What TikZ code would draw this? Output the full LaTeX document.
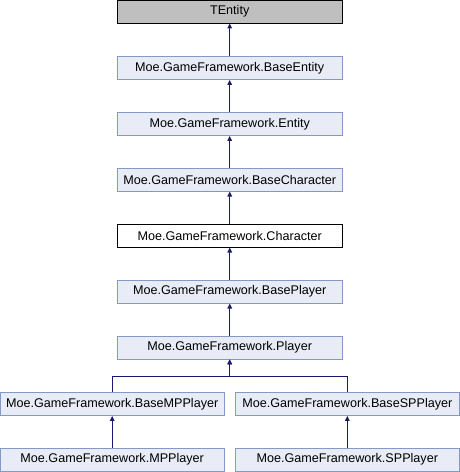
\documentclass[tikz,border=0pt]{standalone}
\usepackage{fontspec}
\setmainfont{Liberation Sans}
\usepackage{tikz}
\usetikzlibrary{arrows.meta}
\definecolor{box_fill}{HTML}{E8ECF6}
\definecolor{box_line}{HTML}{8499C9}
\definecolor{edge_blue}{HTML}{191970}

\begin{document}
\begin{tikzpicture}[x=1pt, y=-1pt,
    class_node/.style={rectangle, draw=box_line, fill=box_fill, line width=0.9pt, minimum width=224.5pt, minimum height=22.7pt, inner sep=0pt, font=\fontsize{12.6}{15}\selectfont},
    root_node/.style={class_node, draw=black, fill=black!25},
    self_node/.style={class_node, draw=black, fill=white},
    edge_line/.style={draw=edge_blue, line width=1.2pt, {Triangle[width=4.5pt,length=5pt]}-}]
    \useasboundingbox (0,0) rectangle (460,472);
    \node[root_node] (tentity) at (229.7, 11.6) {TEntity};
    \node[class_node] (baseentity) at (229.7, 68.0) {Moe.GameFramework.BaseEntity};
    \node[class_node] (entity) at (229.7, 124.0) {Moe.GameFramework.Entity};
    \node[class_node] (basecharacter) at (229.7, 179.7) {Moe.GameFramework.BaseCharacter};
    \node[self_node] (character) at (229.7, 235.7) {Moe.GameFramework.Character};
    \node[class_node] (baseplayer) at (229.7, 291.7) {Moe.GameFramework.BasePlayer};
    \node[class_node] (player) at (229.7, 347.6) {Moe.GameFramework.Player};
    \node[class_node, minimum width=223.5pt] (basempplayer) at (112.2, 404.0) {Moe.GameFramework.BaseMPPlayer};
    \node[class_node, minimum width=223.5pt] (basespplayer) at (347.3, 404.0) {Moe.GameFramework.BaseSPPlayer};
    \node[class_node, minimum width=223.5pt] (mpplayer) at (112.2, 459.7) {Moe.GameFramework.MPPlayer};
    \node[class_node, minimum width=223.5pt] (spplayer) at (347.3, 459.7) {Moe.GameFramework.SPPlayer};
    \coordinate (split) at (229.7, 376.7);
    \draw[edge_line] (tentity) -- (baseentity);
    \draw[edge_line] (baseentity) -- (entity);
    \draw[edge_line] (entity) -- (basecharacter);
    \draw[edge_line] (basecharacter) -- (character);
    \draw[edge_line] (character) -- (baseplayer);
    \draw[edge_line] (baseplayer) -- (player);
    \draw[edge_line] (player.south) -- (split) -| (basempplayer.north);
    \draw[edge_line] (player.south) -- (split) -| (basespplayer.north);
    \draw[edge_line] (basempplayer) -- (mpplayer);
    \draw[edge_line] (basespplayer) -- (spplayer);
\end{tikzpicture}
\end{document}
